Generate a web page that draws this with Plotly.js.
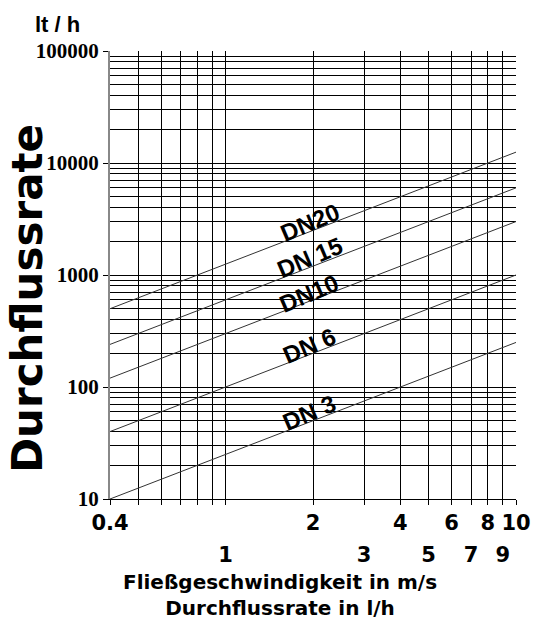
<!DOCTYPE html>
<html>
<head>
<meta charset="utf-8">
<script src="https://cdn.plot.ly/plotly-3.0.1.min.js"></script>
<style>html,body{margin:0;padding:0;background:#fff;}#chart{width:537px;height:621px;}</style>
</head>
<body>
<div id="chart"></div>
<script>
// Velocity (m/s) at the ends of each line
const velocity = [0.4, 10];
// Flow rate (l/h) per nominal diameter
const seriesNames = ['DN 3', 'DN 6', 'DN10', 'DN 15', 'DN20'];
const flowDN3  = [10, 250];
const flowDN6  = [40, 1000];
const flowDN10 = [120, 3000];
const flowDN15 = [240, 6000];
const flowDN20 = [500, 12500];

// Axis ticks / grid
const xGridVals = [0.4, 0.5, 0.6, 0.7, 0.8, 0.9, 1, 2, 3, 4, 5, 6, 7, 8, 9, 10];
const xRow1Text = ['0.4', '', '', '', '', '', '', '2', '', '4', '', '6', '', '8', '', '10'];
const xRow2Vals = [1, 3, 5, 7, 9];
const xRow2Text = ['1', '3', '5', '7', '9'];
const yMajorVals = [10, 100, 1000, 10000, 100000];
const yMajorText = ['10', '100', '1000', '10000', '100000'];
const yMinorVals = [20, 30, 40, 50, 60, 70, 80, 90,
                    200, 300, 400, 500, 600, 700, 800, 900,
                    2000, 3000, 4000, 5000, 6000, 7000, 8000, 9000,
                    20000, 30000, 40000, 50000, 60000, 70000, 80000, 90000];

const series = [flowDN3, flowDN6, flowDN10, flowDN15, flowDN20];

const traces = series.map((q, i) => ({
  x: velocity, y: q, type: 'scatter', mode: 'lines', name: seriesNames[i],
  line: {color: '#333', width: 1}, showlegend: false, hoverinfo: 'skip'
}));

// label positions (log10 units on log axes), slightly above each line
const labelPos = [
  {x: 0.29, y: 1.768},
  {x: 0.29, y: 2.37},
  {x: 0.287, y: 2.839},
  {x: 0.29, y: 3.152},
  {x: 0.29, y: 3.473}
];

const bold = 'Liberation Sans';
const annotations = seriesNames.map((n, i) => ({
  x: labelPos[i].x, y: labelPos[i].y, xref: 'x', yref: 'y',
  text: '<b>' + n + '</b>', showarrow: false, textangle: -23,
  font: {family: bold, size: 24, color: '#000'}
}));

annotations.push({
  xref: 'paper', yref: 'paper', x: -0.13, y: 1.0, xanchor: 'center', yanchor: 'bottom', yshift: 12,
  text: '<b>lt / h</b>', showarrow: false, font: {family: bold, size: 22, color: '#000'}
});
annotations.push({
  xref: 'paper', yref: 'paper', x: -0.202, y: 0.449, xanchor: 'center', yanchor: 'middle',
  text: '<b>Durchflussrate</b>', showarrow: false, textangle: -90,
  font: {family: 'DejaVu Sans', size: 42, color: '#000'}
});
annotations.push({
  xref: 'paper', yref: 'paper', x: 0.419, y: 0, xanchor: 'center', yanchor: 'top', yshift: -69,
  text: '<b>Fließgeschwindigkeit in m/s<br>Durchflussrate in l/h</b>', showarrow: false,
  font: {family: 'DejaVu Sans', size: 20, color: '#000'}
});

const layout = {
  width: 537, height: 621,
  margin: {l: 110, r: 21, t: 51, b: 122},
  paper_bgcolor: '#fff', plot_bgcolor: '#fff',
  showlegend: false,
  xaxis: {
    type: 'log', range: [Math.log10(0.4), 1], fixedrange: true,
    tickmode: 'array', tickvals: xGridVals, ticktext: xRow1Text,
    ticks: 'outside', ticklen: 5, tickcolor: '#000', tickwidth: 1,
    showgrid: true, gridcolor: '#000', gridwidth: 1,
    showline: true, linecolor: '#000', linewidth: 1,
    zeroline: false, automargin: false,
    tickfont: {family: 'DejaVu Sans', size: 21, color: '#000', weight: 'bold'}
  },
  xaxis2: {
    type: 'log', range: [Math.log10(0.4), 1], overlaying: 'x', anchor: 'y', side: 'bottom',
    tickmode: 'array', tickvals: xRow2Vals, ticktext: xRow2Text,
    ticks: '', showgrid: false, showline: false, zeroline: false, automargin: false,
    ticklabelstandoff: 41,
    tickfont: {family: 'DejaVu Sans', size: 21, color: '#000', weight: 'bold'}
  },
  yaxis: {
    type: 'log', range: [1, 5], fixedrange: true,
    tickmode: 'array', tickvals: yMajorVals, ticktext: yMajorText,
    ticks: 'outside', ticklen: 5, tickcolor: '#000', tickwidth: 1,
    showgrid: true, gridcolor: '#000', gridwidth: 1,
    showline: true, linecolor: '#888', linewidth: 2,
    zeroline: false, automargin: false,
    minor: {tickmode: 'array', tickvals: yMinorVals, showgrid: true, gridcolor: '#000', gridwidth: 1, ticks: ''},
    tickfont: {family: 'Liberation Sans Narrow', size: 21, color: '#000', weight: 'bold'}
  },
  annotations: annotations
};

// invisible trace on xaxis2 so its labels render
traces.push({x: velocity, y: flowDN3, xaxis: 'x2', yaxis: 'y', type: 'scatter', mode: 'lines',
  line: {width: 0, color: 'rgba(0,0,0,0)'}, showlegend: false, hoverinfo: 'skip'});

Plotly.newPlot('chart', traces, layout, {staticPlot: true, displayModeBar: false});
</script>
</body>
</html>
